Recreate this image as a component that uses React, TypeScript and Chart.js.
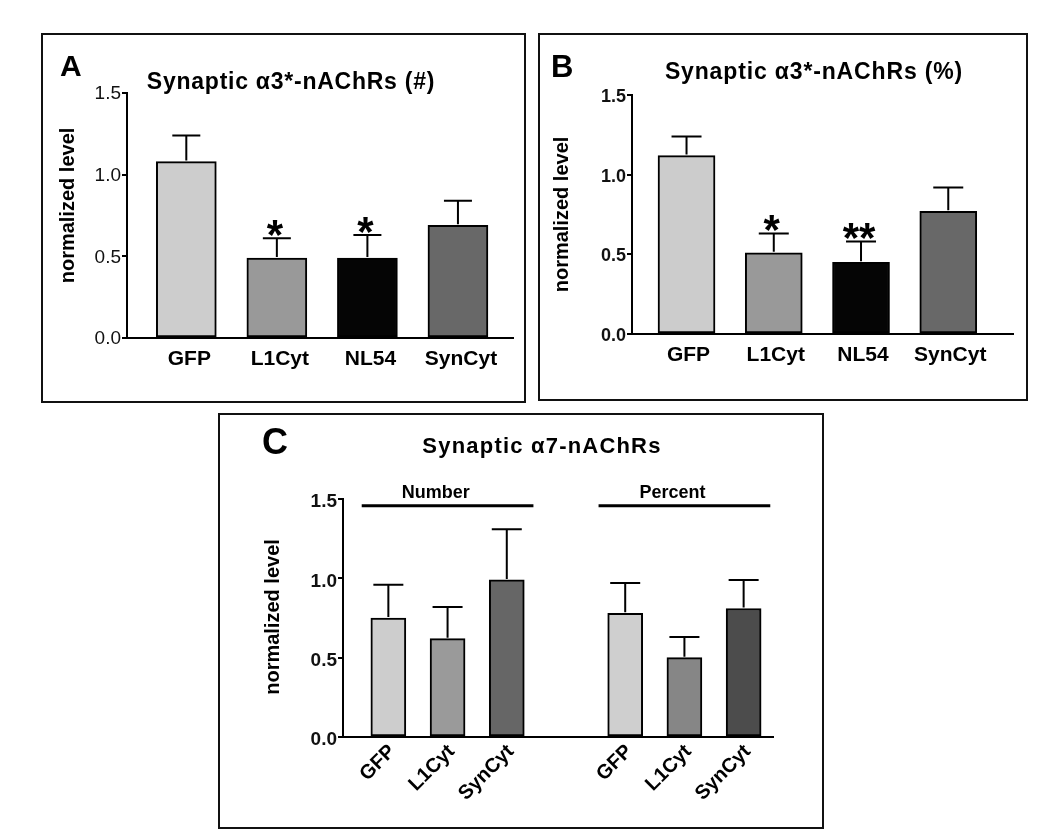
import React, { useEffect, useRef } from 'react';
import { Chart, registerables } from 'chart.js';

Chart.register(...registerables);

const FONT = "'Liberation Sans', Arial, Helvetica, sans-serif";

// ---------- Panel A: Synaptic α3*-nAChRs (#) ----------
const catsA = ['GFP', 'L1Cyt', 'NL54', 'SynCyt'];
const meanA = [1.08, 0.49, 0.49, 0.69];
const semA = [0.16, 0.12, 0.14, 0.15];
const starsA = ['', '*', '*', ''];

// ---------- Panel B: Synaptic α3*-nAChRs (%) ----------
const catsB = ['GFP', 'L1Cyt', 'NL54', 'SynCyt'];
const meanB = [1.12, 0.51, 0.45, 0.77];
const semB = [0.12, 0.12, 0.13, 0.15];
const starsB = ['', '*', '**', ''];

// ---------- Panel C: Synaptic α7-nAChRs ----------
const catsC = ['GFP', 'L1Cyt', 'SynCyt', 'GFP', 'L1Cyt', 'SynCyt'];
const slotsC = [0, 1, 2, 4, 5, 6];
const meanC = [0.75, 0.62, 0.99, 0.78, 0.5, 0.81];
const semC = [0.21, 0.2, 0.32, 0.19, 0.13, 0.18];
const groupNamesC = ['Number', 'Percent'];
const groupFirstC = [0, 4];
const groupLastC = [2, 6];

const yTicks = [0, 0.5, 1.0, 1.5];
const yTitle = 'normalized level';

type Spec = {
  slots: number[];
  labels: string[];
  means: number[];
  sems: number[];
  colors: string[];
  stars?: string[];
  xMin: number;
  xMax: number;
  barW: number;
  cap: number;
  yW: number;
  xH: number;
  padTop: number;
  padRight: number;
  yTickFont: { size: number; weight: string };
  yLabelOffset: number;
  xFont: number;
  xPad: number;
  xLabelOffset: number;
  rotate: number;
  yTitleX: number;
  yTitleShift: number;
  groups?: { names: string[]; first: number[]; last: number[] };
};

function buildChart(canvas: HTMLCanvasElement, s: Spec) {
  const extra = {
    id: 'extras',
    afterDatasetsDraw(chart: any) {
      const { ctx, chartArea } = chart;
      const x = chart.scales.x;
      const y = chart.scales.y;
      ctx.save();
      ctx.strokeStyle = '#000';
      ctx.lineWidth = 2;
      s.slots.forEach((slot, i) => {
        const px = x.getPixelForValue(slot);
        const y0 = y.getPixelForValue(s.means[i]);
        const y1 = y.getPixelForValue(s.means[i] + s.sems[i]);
        ctx.beginPath();
        ctx.moveTo(px, y0 - 1);
        ctx.lineTo(px, y1);
        ctx.moveTo(px - s.cap / 2, y1);
        ctx.lineTo(px + s.cap / 2, y1);
        ctx.stroke();
        if (s.stars && s.stars[i]) {
          ctx.fillStyle = '#000';
          ctx.font = `bold 42px ${FONT}`;
          ctx.textAlign = 'center';
          ctx.textBaseline = 'alphabetic';
          ctx.fillText(s.stars[i], px - 2, y1 - 13.5 + 24);
        }
      });
      if (s.groups) {
        const step = x.getPixelForValue(1) - x.getPixelForValue(0);
        const gy = y.getPixelForValue(1.457);
        s.groups.names.forEach((name, g) => {
          const a = x.getPixelForValue(s.groups!.first[g]) - 0.45 * step;
          const b = x.getPixelForValue(s.groups!.last[g]) + 0.45 * step;
          ctx.lineWidth = 3;
          ctx.beginPath();
          ctx.moveTo(a, gy);
          ctx.lineTo(b, gy);
          ctx.stroke();
          const mid = (x.getPixelForValue(s.groups!.first[g]) + x.getPixelForValue(s.groups!.last[g])) / 2 - 0.2 * step;
          ctx.fillStyle = '#000';
          ctx.font = `bold 18px ${FONT}`;
          ctx.textAlign = 'center';
          ctx.textBaseline = 'alphabetic';
          ctx.fillText(name, mid, gy - 8);
        });
      }
      // y-axis title
      ctx.save();
      ctx.translate(s.yTitleX, (chartArea.top + chartArea.bottom) / 2 + s.yTitleShift);
      ctx.rotate(-Math.PI / 2);
      ctx.fillStyle = '#000';
      ctx.font = `bold 20px ${FONT}`;
      ctx.textAlign = 'center';
      ctx.textBaseline = 'middle';
      ctx.fillText(yTitle, 0, 0);
      ctx.restore();
      ctx.restore();
    },
  };

  return new Chart(canvas, {
    type: 'bar',
    data: {
      datasets: [
        {
          data: s.slots.map((slot, i) => ({ x: slot, y: s.means[i] })),
          backgroundColor: s.colors,
          borderColor: '#000',
          borderWidth: 2,
          borderSkipped: false,
          barThickness: s.barW,
        },
      ],
    },
    options: {
      animation: false,
      responsive: false,
      devicePixelRatio: 1,
      events: [],
      layout: { padding: { left: 0, top: s.padTop, right: s.padRight, bottom: 0 } },
      plugins: { legend: { display: false }, tooltip: { enabled: false }, title: { display: false } },
      scales: {
        x: {
          type: 'linear',
          min: s.xMin,
          max: s.xMax,
          offset: false,
          afterBuildTicks: (axis: any) => {
            axis.ticks = s.slots.map((v) => ({ value: v }));
          },
          afterFit: (axis: any) => {
            axis.height = s.xH;
          },
          ticks: {
            autoSkip: false,
            color: '#000',
            padding: s.xPad,
            labelOffset: s.xLabelOffset,
            minRotation: s.rotate,
            maxRotation: s.rotate,
            font: { family: FONT, size: s.xFont, weight: 'bold' },
            callback: (v: any) => {
              const idx = s.slots.indexOf(Number(v));
              return idx >= 0 ? s.labels[idx] : '';
            },
          },
          grid: { display: false, drawTicks: false, offset: false },
          border: { display: true, color: '#000', width: 2 },
        },
        y: {
          min: 0,
          max: 1.5,
          afterBuildTicks: (axis: any) => {
            axis.ticks = yTicks.map((v) => ({ value: v }));
          },
          afterFit: (axis: any) => {
            axis.width = s.yW;
          },
          ticks: {
            color: '#111',
            padding: 1,
            labelOffset: s.yLabelOffset,
            font: { family: FONT, size: s.yTickFont.size, weight: s.yTickFont.weight as any },
            callback: (v: any) => Number(v).toFixed(1),
          },
          grid: { display: true, drawOnChartArea: false, drawTicks: true, tickLength: 5, color: '#000', lineWidth: 2 },
          border: { display: true, color: '#000', width: 2 },
          title: { display: false },
        },
      },
    },
    plugins: [extra],
  } as any);
}

const specA: Spec = {
  slots: [0, 1, 2, 3],
  labels: catsA,
  means: meanA,
  sems: semA,
  colors: ['#cdcdcd', '#999999', '#050505', '#686868'],
  stars: starsA,
  xMin: -0.655,
  xMax: 3.608,
  barW: 60,
  cap: 28,
  yW: 84,
  xH: 63,
  padTop: 58,
  padRight: 11,
  yTickFont: { size: 19, weight: 'normal' },
  yLabelOffset: 1,
  xFont: 21,
  xPad: 9,
  xLabelOffset: 3,
  rotate: 0,
  yTitleX: 25.5,
  yTitleShift: -10,
};

const specB: Spec = {
  slots: [0, 1, 2, 3],
  labels: catsB,
  means: meanB,
  sems: semB,
  colors: ['#cccccc', '#999999', '#050505', '#686868'],
  stars: starsB,
  xMin: -0.625,
  xMax: 3.742,
  barW: 57,
  cap: 30,
  yW: 92,
  xH: 65,
  padTop: 60,
  padRight: 13,
  yTickFont: { size: 18, weight: 'bold' },
  yLabelOffset: 2,
  xFont: 21,
  xPad: 9,
  xLabelOffset: 2,
  rotate: 0,
  yTitleX: 22.5,
  yTitleShift: 0,
};

const specC: Spec = {
  slots: slotsC,
  labels: catsC,
  means: meanC,
  sems: semC,
  colors: ['#cdcdcd', '#9a9a9a', '#666666', '#cfcfcf', '#868686', '#4c4c4c'],
  xMin: -0.766,
  xMax: 6.496,
  barW: 35,
  cap: 30,
  yW: 123,
  xH: 90,
  padTop: 84,
  padRight: 49,
  yTickFont: { size: 19, weight: 'bold' },
  yLabelOffset: 3,
  xFont: 20,
  xPad: 3,
  xLabelOffset: 4,
  rotate: 45,
  yTitleX: 53,
  yTitleShift: -1,
  groups: { names: groupNamesC, first: groupFirstC, last: groupLastC },
};

function Panel({ box, spec }: { box: [number, number, number, number]; spec: Spec }) {
  const ref = useRef<HTMLCanvasElement>(null);
  useEffect(() => {
    if (!ref.current) return;
    const c = buildChart(ref.current, spec);
    return () => c.destroy();
  }, []);
  const [l, t, w, h] = box;
  return (
    <div
      style={{
        position: 'absolute',
        left: l,
        top: t,
        width: w,
        height: h,
        border: '2px solid #111',
        boxSizing: 'border-box',
        background: '#fff',
      }}
    >
      <canvas ref={ref} width={w - 4} height={h - 4} style={{ position: 'absolute', left: 0, top: 0, width: w - 4, height: h - 4 }} />
    </div>
  );
}

function Text({
  x,
  y,
  size,
  children,
  align = 'left',
  spacing = 0,
}: {
  x: number;
  y: number;
  size: number;
  children: React.ReactNode;
  align?: 'left' | 'center';
  spacing?: number;
}) {
  const style: React.CSSProperties = {
    position: 'absolute',
    top: y,
    fontFamily: FONT,
    fontWeight: 'bold',
    fontSize: size,
    lineHeight: 1,
    whiteSpace: 'nowrap',
    color: '#000',
    letterSpacing: spacing,
  };
  if (align === 'center') {
    style.left = x - 250;
    style.width = 500;
    style.textAlign = 'center';
  } else {
    style.left = x;
  }
  return <div style={style}>{children}</div>;
}

export default function App() {
  return (
    <div style={{ position: 'absolute', left: 0, top: 0, width: 1050, height: 839, background: '#fff' }}>
      <Panel box={[41, 33, 485, 370]} spec={specA} />
      <Panel box={[538, 33, 490, 368]} spec={specB} />
      <Panel box={[218, 413, 606, 416]} spec={specC} />
      <Text x={60} y={51} size={30}>A</Text>
      <Text x={551} y={51} size={31}>B</Text>
      <Text x={262} y={424} size={36}>C</Text>
      <Text x={291} y={70} size={23} align="center" spacing={0.75}>Synaptic α3*-nAChRs (#)</Text>
      <Text x={814} y={60} size={23} align="center" spacing={0.85}>Synaptic α3*-nAChRs (%)</Text>
      <Text x={542} y={435} size={22} align="center" spacing={1.2}>Synaptic α7-nAChRs</Text>
    </div>
  );
}
